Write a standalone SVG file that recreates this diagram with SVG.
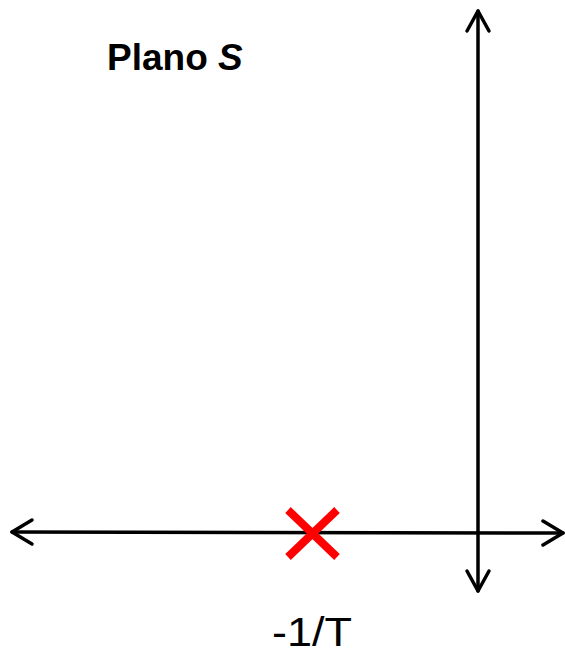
<svg xmlns="http://www.w3.org/2000/svg" width="565" height="656" viewBox="0 0 565 656">
<style>
.ax{stroke:#000;stroke-width:3.5;fill:none;stroke-linecap:round;stroke-linejoin:round}
.pole{stroke:#ff0000;stroke-width:8;fill:none}
</style>
<rect width="565" height="656" fill="#fff"/>
<g id="connectors">
<g id="real-axis">
<line class="ax" x1="12" y1="532" x2="563" y2="533"/>
<polyline class="ax" points="32,520 12,532 32,544"/>
<polyline class="ax" points="543,521 563,533 543,545"/>
</g>
<g id="imag-axis">
<line class="ax" x1="478" y1="11" x2="478" y2="591"/>
<polyline class="ax" points="467,31 478,11 489,31"/>
<polyline class="ax" points="467,571 478,591 489,571"/>
</g>
</g>
<g id="pole">
<line class="pole" x1="288" y1="510" x2="337" y2="557"/>
<line class="pole" x1="337" y1="510" x2="288" y2="557"/>
</g>
<g id="title">
<text x="107" y="70" font-family="Liberation Sans, Arial, sans-serif" font-size="37" font-weight="bold">Plano <tspan font-style="italic">S</tspan></text>
</g>
<g id="label">
<text x="272" y="646" font-family="Liberation Sans, Arial, sans-serif" font-size="41" textLength="80" lengthAdjust="spacingAndGlyphs">-1/T</text>
</g>
</svg>
